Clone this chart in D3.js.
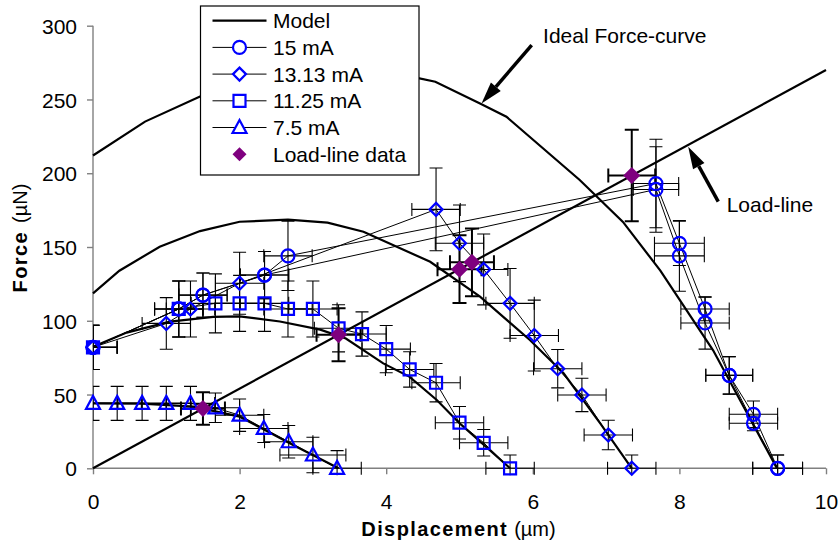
<!DOCTYPE html>
<html>
<head>
<meta charset="utf-8">
<script src="https://cdn.jsdelivr.net/npm/d3@7"></script>
<style>
  body { margin: 0; background: #fff; }
  svg { display: block; font-family: "Liberation Sans", Arial, sans-serif; }
</style>
</head>
<body>
<svg id="chart" width="840" height="544"></svg>
<script>
// ---- Axis ticks ----
const xTicks = [0, 2, 4, 6, 8, 10];
const yTicks = [0, 50, 100, 150, 200, 250, 300];

// ---- Model force curves [displacement µm, force µN] ----
const modelIdeal = [[0, 212], [0.71, 235], [1.46, 252], [2.2, 263], [3.0, 269], [3.7, 269.5],
  [4.39, 265], [4.67, 262], [5.28, 247.3], [5.64, 238.3], [6.64, 195.4], [7.23, 167],
  [7.74, 134], [8.46, 80], [9.33, 0]];
const model1313 = [[0, 118.6], [0.36, 133.9], [0.91, 150.2], [1.46, 160.8], [2.0, 167.1],
  [2.66, 168.5], [3.2, 166.5], [3.69, 160.3], [4.6, 140], [5.28, 116.3], [5.96, 87],
  [6.42, 64.4], [6.92, 30.5], [7.35, 0]];
const model1125 = [[0, 82.4], [0.46, 92], [1.05, 99.4], [1.64, 102.7], [2.0, 103],
  [2.55, 99.5], [3.1, 94], [3.45, 88], [3.96, 71.1], [4.32, 62], [4.69, 46.3],
  [5.0, 30.5], [5.69, 0]];
const model75 = [[0, 44], [0.67, 43.8], [1.37, 41.8], [2.0, 35], [2.73, 15.8], [3.35, 0]];

// ---- Load line ----
const loadLine = [[0, 0], [10, 270]];

// ---- Measured data [x, force, x error, force error] ----
const data15a = [[0, 82, 0.33, 15], [1.17, 108, 0.33, 19], [1.5, 117.4, 0.33, 15],
  [2.34, 131, 0.33, 16], [2.66, 144, 0.33, 23.5], [7.68, 193, 0.31, 30],
  [8.0, 152.5, 0.34, 15], [8.35, 108, 0.33, 8], [8.68, 63, 0.32, 12.7],
  [9.01, 36.6, 0.33, 9], [9.34, 0, 0.34, 9]];
const data15b = [[0, 82, 0.33, 15], [1.17, 108, 0.33, 19], [1.5, 117.4, 0.33, 15],
  [2.34, 131, 0.33, 16], [7.68, 189, 0.31, 29], [8.0, 144, 0.34, 24],
  [8.35, 98.5, 0.33, 17.7], [8.68, 63, 0.32, 12.7], [9.01, 30.5, 0.33, 5],
  [9.34, 0, 0.34, 9]];
const data1313 = [[0, 82, 0.33, 15], [1.0, 98.2, 0.33, 17.5], [1.33, 108, 0.33, 19],
  [2.0, 125.4, 0.33, 21], [4.68, 175.5, 0.33, 28], [5.0, 152.5, 0.33, 26],
  [5.33, 134.8, 0.33, 24], [5.69, 111.8, 0.33, 23.6], [6.02, 90, 0.33, 24],
  [6.34, 67.5, 0.33, 13], [6.67, 49.7, 0.33, 11.3], [7.03, 22.6, 0.33, 10],
  [7.35, 0, 0.33, 9]];
const data1125 = [[0, 82, 0.33, 15], [1.17, 108, 0.33, 19], [1.67, 111.8, 0.33, 20],
  [2.0, 111.8, 0.33, 19], [2.34, 111.8, 0.33, 19], [2.66, 108, 0.33, 19],
  [3.0, 108, 0.33, 19], [3.35, 94.9, 0.33, 16], [3.67, 91, 0.33, 15],
  [4.0, 80.8, 0.33, 16], [4.32, 67, 0.33, 12], [4.68, 58, 0.33, 13],
  [5.0, 30.9, 0.33, 11], [5.33, 17.3, 0.33, 9], [5.69, 0, 0.33, 9]];
const data75 = [[0, 44, 0.33, 11.5], [0.33, 44, 0.33, 11.5], [0.67, 44, 0.33, 11.5],
  [1.0, 44, 0.33, 11.5], [1.33, 44, 0.33, 11.5], [1.67, 41, 0.33, 10],
  [2.0, 36, 0.33, 11], [2.33, 27, 0.33, 9.5], [2.67, 18, 0.33, 11],
  [3.0, 9, 0.45, 12], [3.33, 0, 0.33, 12]];
const loadData = [[1.5, 40.5, 0.3, 11], [3.35, 90.5, 0.3, 18], [5.0, 135, 0.3, 23],
  [5.17, 139.6, 0.3, 23], [7.35, 198.5, 0.32, 31]];

// ---- Legend labels ----
const legendLabels = ["Model", "15 mA", "13.13 mA", "11.25 mA", "7.5 mA", "Load-line data"];

// ---- Annotations [text position, arrow tail, arrow tip] in data units ----
const annotations = [
  { text: "Ideal Force-curve", at: [6.14, 288], from: [5.985, 286.8], to: [5.30, 247.3] },
  { text: "Load-line", at: [8.645, 173.9], from: [8.53, 180.7], to: [8.12, 217.9] }
];

// ---- Layout ----
const W = 840, H = 544;
const x = d3.scaleLinear().domain([0, 10]).range([93, 826]);
const y = d3.scaleLinear().domain([0, 300]).range([468.3, 25.7]);
const BLUE = "#0000ff", PURPLE = "#7f007f", AXIS = "#808080";

const svg = d3.select("#chart");

svg.append("defs").append("clipPath").attr("id", "plotClip")
  .append("rect").attr("x", x(0)).attr("y", 0)
  .attr("width", x(10) - x(0) + 6).attr("height", y(0) + 7);

// Axes
const xAxis = d3.axisBottom(x).tickValues(xTicks).tickSize(6).tickPadding(20);
const yAxis = d3.axisLeft(y).tickValues(yTicks).tickSize(6).tickPadding(10);

const gx = svg.append("g").attr("transform", `translate(0,${y(0)})`).call(xAxis);
const gy = svg.append("g").attr("transform", `translate(${x(0)},0)`).call(yAxis);
[gx, gy].forEach(g => {
  g.select(".domain").attr("stroke", AXIS).attr("stroke-width", 1.4);
  g.selectAll(".tick line").attr("stroke", AXIS).attr("stroke-width", 1.4);
  g.selectAll(".tick text").attr("fill", "#000").style("font-size", "21px")
    .style("font-family", '"Liberation Sans", Arial, sans-serif');
});
gy.selectAll(".tick text").attr("dy", "0.36em");
gx.selectAll(".tick text").attr("dy", "0.71em");
gx.select(".domain").attr("d", `M${x(0)},0H${x(10)}`);
gy.select(".domain").attr("d", `M0,${y(0)}V${y(300)}`);

// Axis titles
const xt = svg.append("text").attr("x", x(5) - 1).attr("y", 536)
  .attr("text-anchor", "middle").style("font-size", "20px");
xt.append("tspan").attr("font-weight", "bold").style("letter-spacing", "1.4px").text("Displacement");
xt.append("tspan").attr("dx", 6).text("(\u00b5m)");

const yt = svg.append("text").attr("transform", `translate(27,238) rotate(-90)`)
  .attr("text-anchor", "middle").style("font-size", "20px");
yt.append("tspan").attr("font-weight", "bold").style("letter-spacing", "1.4px").text("Force");
yt.append("tspan").attr("dx", 8).text("(\u00b5N)");

const line = d3.line().x(d => x(d[0])).y(d => y(d[1]));

// Model curves and load line
const plot = svg.append("g");
[modelIdeal, model1313, model1125, model75, loadLine].forEach(c => {
  plot.append("path").attr("d", line(c)).attr("fill", "none")
    .attr("stroke", "#000").attr("stroke-width", 2.2);
});

// Error bars
function errorBars(series, width, cap) {
  const g = plot.append("g").attr("clip-path", "url(#plotClip)")
    .attr("stroke", "#000").attr("stroke-width", width).attr("fill", "none");
  series.forEach(([px, py, ex, ey]) => {
    const cx = x(px), cy = y(py);
    const x0 = x(px - ex), x1 = x(px + ex), y0 = y(py - ey), y1 = y(py + ey);
    const p = d3.path();
    p.moveTo(cx, y0); p.lineTo(cx, y1);
    p.moveTo(cx - cap, y0); p.lineTo(cx + cap, y0);
    p.moveTo(cx - cap, y1); p.lineTo(cx + cap, y1);
    p.moveTo(x0, cy); p.lineTo(x1, cy);
    p.moveTo(x0, cy - cap); p.lineTo(x0, cy + cap);
    p.moveTo(x1, cy - cap); p.lineTo(x1, cy + cap);
    g.append("path").attr("d", p.toString());
  });
}
[data15a, data15b, data1313, data1125, data75].forEach(s => errorBars(s, 1.1, 6.5));
errorBars(loadData, 2, 7);

// Data lines
[data15a, data15b, data1313, data1125, data75].forEach(s => {
  plot.append("path").attr("d", line(s)).attr("fill", "none")
    .attr("stroke", "#000").attr("stroke-width", 1);
});

// Marker shapes centred on (0,0)
const shapes = {
  circle: () => { const p = d3.path(); p.arc(0, 0, 6.5, 0, 2 * Math.PI); return p.toString(); },
  diamond: () => "M0,-6.5L6.5,0L0,6.5L-6.5,0Z",
  square: () => "M-6,-6H6V6H-6Z",
  triangle: () => "M0,-7.5L7,5.5H-7Z",
  bigDiamond: () => "M0,-8.5L8.5,0L0,8.5L-8.5,0Z"
};

function markers(series, shape) {
  plot.append("g").selectAll("path").data(series).join("path")
    .attr("transform", d => `translate(${x(d[0])},${y(d[1])})`)
    .attr("d", shapes[shape]())
    .attr("fill", "none").attr("stroke", BLUE).attr("stroke-width", 2.2);
}
markers(data15a, "circle");
markers(data15b, "circle");
markers(data1313, "diamond");
markers(data1125, "square");
markers(data75, "triangle");

plot.append("g").selectAll("path").data(loadData).join("path")
  .attr("transform", d => `translate(${x(d[0])},${y(d[1])})`)
  .attr("d", shapes.bigDiamond()).attr("fill", PURPLE);

// Legend
const lg = svg.append("g").attr("transform", "translate(200.5,6)");
lg.append("rect").attr("width", 218.5).attr("height", 169)
  .attr("fill", "#fff").attr("stroke", "#000").attr("stroke-width", 1.2);
const legendKinds = ["model", "circle", "diamond", "square", "triangle", "load"];
legendLabels.forEach((label, i) => {
  const cy = 14.7 + i * 26.7;
  const row = lg.append("g").attr("transform", `translate(0,${cy})`);
  const k = legendKinds[i];
  if (k !== "load") {
    row.append("line").attr("x1", 12).attr("x2", 66).attr("y1", 0).attr("y2", 0)
      .attr("stroke", "#000").attr("stroke-width", k === "model" ? 2.2 : 1);
  }
  if (k === "load") {
    row.append("path").attr("transform", "translate(39,0)")
      .attr("d", "M0,-7L7,0L0,7L-7,0Z").attr("fill", PURPLE);
  } else if (k !== "model") {
    row.append("path").attr("transform", "translate(39,0)")
      .attr("d", shapes[k]()).attr("fill", "#fff").attr("stroke", BLUE).attr("stroke-width", 2.2);
  }
  row.append("text").attr("x", 72.5).attr("y", 0).attr("dy", "0.36em")
    .style("font-size", "21px").text(label);
});

// Annotations with arrows
annotations.forEach(a => {
  svg.append("text").attr("x", x(a.at[0])).attr("y", y(a.at[1]))
    .style("font-size", "21px").text(a.text);
  const x0 = x(a.from[0]), y0 = y(a.from[1]), x1 = x(a.to[0]), y1 = y(a.to[1]);
  const ang = Math.atan2(y1 - y0, x1 - x0);
  const L = 22, hw = 6.5;
  const bx = x1 - L * Math.cos(ang), by = y1 - L * Math.sin(ang);
  svg.append("line").attr("x1", x0).attr("y1", y0).attr("x2", bx).attr("y2", by)
    .attr("stroke", "#000").attr("stroke-width", 3.5);
  const nx = -Math.sin(ang), ny = Math.cos(ang);
  svg.append("path")
    .attr("d", `M${x1},${y1}L${bx + nx * hw},${by + ny * hw}L${bx - nx * hw},${by - ny * hw}Z`)
    .attr("fill", "#000");
});
</script>
</body>
</html>
